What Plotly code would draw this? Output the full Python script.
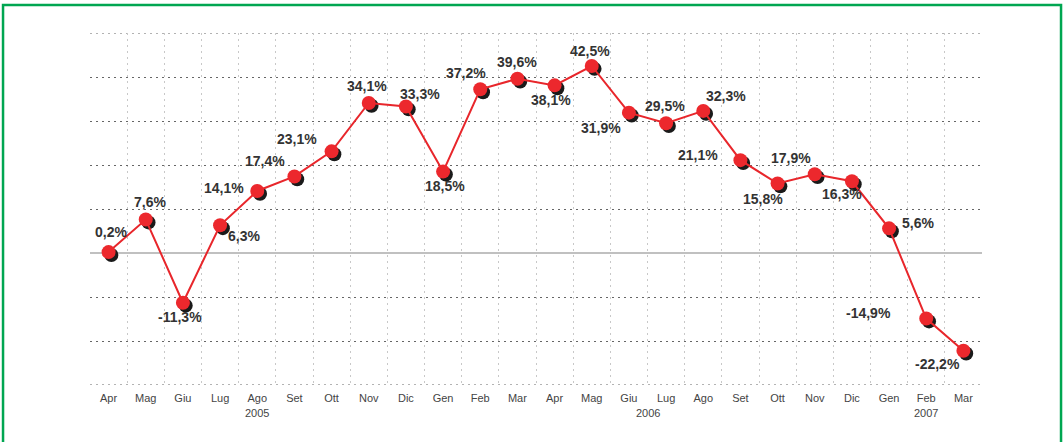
import plotly.graph_objects as go

months = ["Apr", "Mag", "Giu", "Lug", "Ago", "Set", "Ott", "Nov", "Dic",
          "Gen", "Feb", "Mar", "Apr", "Mag", "Giu", "Lug", "Ago", "Set", "Ott", "Nov", "Dic",
          "Gen", "Feb", "Mar"]
values = [0.2, 7.6, -11.3, 6.3, 14.1, 17.4, 23.1, 34.1, 33.3,
          18.5, 37.2, 39.6, 38.1, 42.5, 31.9, 29.5, 32.3, 21.1, 15.8, 17.9, 16.3,
          5.6, -14.9, -22.2]
years = ["2005", "2006", "2007"]
year_first_idx = [0, 9, 21]
year_last_idx = [8, 20, 23]
y_min, y_max = -30, 50

# label pixel offsets (style only)
label_dx = [2, 4, -3, 24, -33, -29, -35, -2, 14, 2, -14, 0, -4, -2, -28, -1, 23, -42, -15, -24, -10, 29, -58, -26]
label_dy = [-20, -18, 14, 11, -3, -15, -12, -17, -12, 14, -16, -17, 15, -15, 15, -17, -15, -5, 16, -16, 13, -5, -6, 13]

xs = list(range(len(months)))

fig = go.Figure()
# shadow of markers
fig.add_trace(go.Scatter(
    x=[x + 0.075 for x in xs], y=[v - 0.65 for v in values], mode="markers",
    marker=dict(size=14, color="#1a1a1a"), hoverinfo="skip", showlegend=False))
fig.add_trace(go.Scatter(
    x=xs, y=values, mode="lines+markers",
    line=dict(color="#e8262b", width=2),
    marker=dict(size=14, color="#ec282d"), showlegend=False))

annotations = []
for x, v, dx, dy in zip(xs, values, label_dx, label_dy):
    annotations.append(dict(
        x=x, y=v, xref="x", yref="y", text=("%.1f%%" % v).replace(".", ","),
        showarrow=False, xshift=dx, yshift=-dy,
        font=dict(family="Liberation Sans, Arial", size=14, color="#333333", weight="bold")))
for yr, a, b in zip(years, year_first_idx, year_last_idx):
    annotations.append(dict(
        x=(a + b) / 2, y=0, xref="x", yref="paper", yshift=-36, text=yr,
        showarrow=False, font=dict(family="Liberation Sans, Arial", size=11, color="#444444")))

shapes = [dict(type="rect", xref="paper", yref="paper",
               x0=-0.0975, x1=1.0886, y0=-0.2, y1=1.0795,
               line=dict(color="#00a651", width=2.5), fillcolor="rgba(0,0,0,0)", layer="below")]
for yv in (y_min, y_max):
    shapes.append(dict(type="line", xref="paper", yref="y", x0=0, x1=1, y0=yv, y1=yv,
                       line=dict(color="#666666", width=1, dash="2px,4px"), layer="below"))

fig.update_layout(
    width=1064, height=442,
    margin=dict(l=90, r=82, t=33, b=57),
    paper_bgcolor="white", plot_bgcolor="white",
    annotations=annotations,
    shapes=shapes,
    xaxis=dict(range=[-0.5, len(months) - 0.5], tickmode="array", tickvals=xs, ticktext=months,
               showgrid=False, zeroline=False, showline=False, ticks="", ticklabelstandoff=5,
               tickfont=dict(family="Liberation Sans, Arial", size=11, color="#444444"),
               minor=dict(tick0=-0.5, dtick=1, showgrid=True, gridcolor="#c8c8c8",
                          griddash="2px,4px", gridwidth=1)),
    yaxis=dict(range=[y_min, y_max], dtick=10, showticklabels=False, showgrid=True,
               gridcolor="#666666", griddash="2px,4px", gridwidth=1,
               zeroline=True, zerolinecolor="#c0c0c0", zerolinewidth=2, showline=False, ticks=""),
)

fig.write_html("out.html", config={"displayModeBar": False},
               post_script="document.body.style.margin='0';")
